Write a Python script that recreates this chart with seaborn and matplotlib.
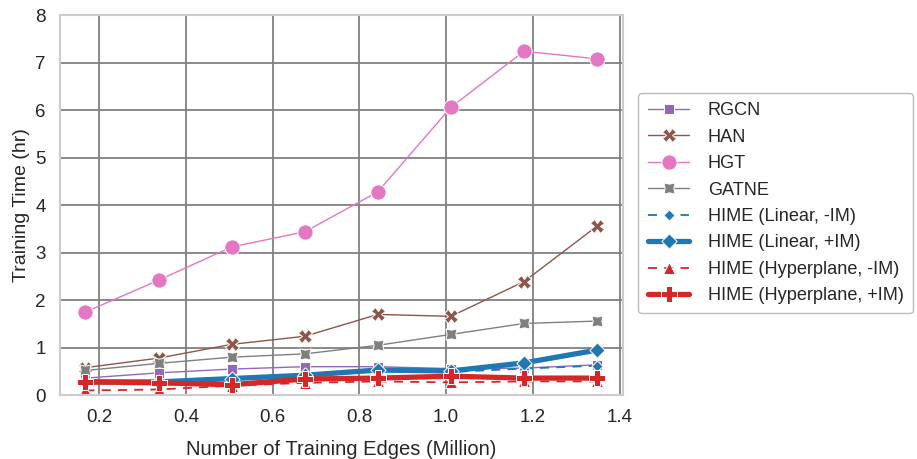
import numpy as np
import pandas as pd
import matplotlib
matplotlib.use("Agg")
import matplotlib.pyplot as plt
from matplotlib.path import Path
import seaborn as sns

edges = [0.1685, 0.337, 0.5055, 0.674, 0.8425, 1.011, 1.1795, 1.348]

rgcn = [0.36, 0.47, 0.55, 0.60, 0.60, 0.56, 0.57, 0.64]
han = [0.58, 0.78, 1.07, 1.24, 1.70, 1.66, 2.39, 3.56]
hgt = [1.75, 2.42, 3.12, 3.44, 4.28, 6.06, 7.24, 7.08]
gatne = [0.52, 0.67, 0.80, 0.87, 1.05, 1.28, 1.51, 1.56]
hime_lin_noim = [0.28, 0.27, 0.33, 0.40, 0.50, 0.49, 0.56, 0.62]
hime_lin_im = [0.28, 0.28, 0.35, 0.42, 0.53, 0.51, 0.68, 0.95]
hime_hyp_noim = [0.10, 0.12, 0.20, 0.26, 0.29, 0.27, 0.29, 0.29]
hime_hyp_im = [0.28, 0.26, 0.22, 0.34, 0.36, 0.40, 0.36, 0.36]

names = ["RGCN", "HAN", "HGT", "GATNE",
         "HIME (Linear, -IM)", "HIME (Linear, +IM)",
         "HIME (Hyperplane, -IM)", "HIME (Hyperplane, +IM)"]
series = [rgcn, han, hgt, gatne, hime_lin_noim, hime_lin_im,
          hime_hyp_noim, hime_hyp_im]

sns.set_theme(style="whitegrid")
plt.rcParams["font.family"] = ["Liberation Sans", "DejaVu Sans"]

# square with slightly pinched-in sides
pinched = Path([(-1, -1), (0, -0.78), (1, -1), (0.78, 0), (1, 1), (0, 0.78),
                (-1, 1), (-0.78, 0), (-1, -1)], closed=True)

solid = "-"
dashed = (0, (5, 4))
styles = {
    "RGCN": dict(color="tab:purple", marker="s", ms=7, lw=1.0, ls=solid),
    "HAN": dict(color="tab:brown", marker="X", ms=10, lw=1.0, ls=solid),
    "HGT": dict(color="tab:pink", marker="o", ms=11, lw=1.0, ls=solid),
    "GATNE": dict(color="tab:gray", marker=pinched, ms=8, lw=1.0, ls=solid),
    "HIME (Linear, -IM)": dict(color="tab:blue", marker=(4, 0, 0), ms=8, lw=1.3, ls=dashed),
    "HIME (Linear, +IM)": dict(color="tab:blue", marker=(4, 0, 0), ms=11, lw=3.8, ls=solid),
    "HIME (Hyperplane, -IM)": dict(color="tab:red", marker="^", ms=9, lw=1.3, ls=dashed),
    "HIME (Hyperplane, +IM)": dict(color="tab:red", marker="P", ms=11, lw=3.8, ls=solid),
}

fig = plt.figure(figsize=(9.17, 4.59), dpi=100)
ax = fig.add_axes([0.065, 0.139, 0.614, 0.828])

for name, vals in zip(names, series):
    st = styles[name]
    df = pd.DataFrame({"x": edges, "y": vals})
    sns.lineplot(data=df, x="x", y="y", ax=ax, color=st["color"],
                 marker=st["marker"], markersize=st["ms"], linewidth=st["lw"],
                 linestyle=st["ls"], markeredgecolor="white",
                 markeredgewidth=0.7, label=name)

ax.set_ylim(0, 8)
ax.set_xticks([0.2, 0.4, 0.6, 0.8, 1.0, 1.2, 1.4])
ax.set_xlim(0.109, 1.407)
ax.set_xlabel("Number of Training Edges (Million)", fontsize=14.5, labelpad=10)
ax.set_ylabel("Training Time (hr)", fontsize=14)
ax.tick_params(labelsize=13.5, pad=4)
ax.grid(True, color="#808080", linewidth=1.3)
for sp in ax.spines.values():
    sp.set_color("#cccccc")
    sp.set_linewidth(1.5)

leg = ax.legend(loc="center left", bbox_to_anchor=(1.012, 0.505), fontsize=13.1,
                frameon=True, edgecolor="#aaaaaa", handlelength=2.3,
                borderpad=0.5, labelspacing=0.52, handletextpad=1.0)
leg.get_frame().set_linewidth(1.0)

fig.savefig("out.png", dpi=100)
